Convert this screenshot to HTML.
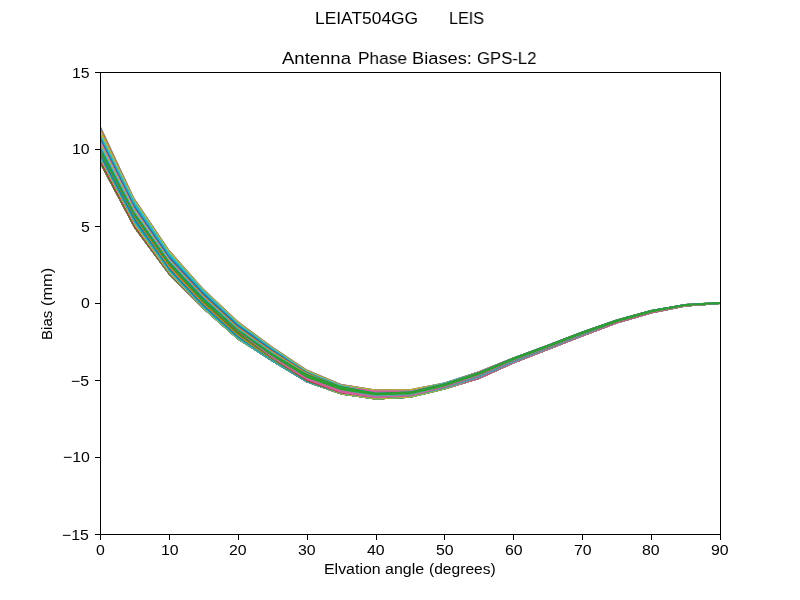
<!DOCTYPE html><html><head><meta charset="utf-8"><title>Antenna Phase Biases</title><style>
html,body{margin:0;padding:0;background:#fff;}
body{width:800px;height:600px;position:relative;overflow:hidden;font-family:"Liberation Sans",sans-serif;color:#000;}
.w{position:absolute;white-space:pre;line-height:1;transform-origin:0 0;will-change:transform;}
</style></head><body>
<svg width="800" height="600" viewBox="0 0 800 600" style="position:absolute;left:0;top:0">
<defs><clipPath id="ax"><rect x="100" y="72" width="620" height="462"/></clipPath></defs>
<g clip-path="url(#ax)" stroke="none">
<polygon fill="#1f77b4" points="100.0,124.64 101.2,127.20 134.4,198.20 168.9,249.60 203.3,288.40 237.8,321.10 272.2,346.50 306.7,369.50 341.1,383.90 375.6,389.60 410.0,389.20 444.4,382.50 478.9,371.20 513.3,357.50 547.8,344.70 582.2,331.60 616.7,319.60 651.1,310.10 685.6,304.10 720.0,301.95 720.0,304.05 685.6,306.50 651.1,313.50 616.7,323.60 582.2,336.40 547.8,350.10 513.3,363.60 478.9,379.00 444.4,389.60 410.0,397.80 375.6,399.40 341.1,394.60 306.7,382.20 272.2,361.40 237.8,339.50 203.3,308.90 168.9,274.60 134.4,228.00 101.2,165.70 100.0,163.45"/>
<polygon fill="#ff7f0e" points="100.0,125.88 101.2,128.40 134.4,198.20 168.9,249.60 203.3,288.40 237.8,321.10 272.2,346.50 306.7,369.50 341.1,383.90 375.6,389.60 410.0,389.20 444.4,382.50 478.9,371.20 513.3,357.50 547.8,344.70 582.2,331.60 616.7,319.60 651.1,310.10 685.6,304.10 720.0,301.95 720.0,304.05 685.6,306.50 651.1,313.50 616.7,323.60 582.2,336.40 547.8,350.10 513.3,363.60 478.9,379.00 444.4,389.60 410.0,397.80 375.6,399.40 341.1,394.60 306.7,382.20 272.2,361.40 237.8,339.50 203.3,308.90 168.9,274.60 134.4,228.00 101.2,165.70 100.0,163.45"/>
<polygon fill="#9467bd" points="100.0,127.85 101.2,130.30 134.4,198.20 168.9,249.60 203.3,288.40 237.8,321.10 272.2,346.50 306.7,369.50 341.1,383.90 375.6,389.60 410.0,389.20 444.4,382.50 478.9,371.20 513.3,357.50 547.8,344.70 582.2,331.60 616.7,319.60 651.1,310.10 685.6,304.10 720.0,301.95 720.0,304.05 685.6,306.50 651.1,313.50 616.7,323.60 582.2,336.40 547.8,350.10 513.3,363.60 478.9,379.00 444.4,389.60 410.0,397.80 375.6,399.40 341.1,394.60 306.7,382.20 272.2,361.40 237.8,339.50 203.3,308.90 168.9,274.60 134.4,228.00 101.2,165.70 100.0,163.45"/>
<polygon fill="#bcbd22" points="100.0,129.16 101.2,131.60 134.4,199.30 168.9,250.30 203.3,289.00 237.8,321.60 272.2,347.00 306.7,370.00 341.1,384.50 375.6,389.60 410.0,389.20 444.4,382.50 478.9,371.20 513.3,357.50 547.8,344.70 582.2,331.60 616.7,319.60 651.1,310.10 685.6,304.10 720.0,301.95 720.0,304.05 685.6,306.50 651.1,313.50 616.7,323.60 582.2,336.40 547.8,350.10 513.3,363.60 478.9,379.00 444.4,389.60 410.0,397.80 375.6,399.40 341.1,394.60 306.7,382.20 272.2,361.40 237.8,339.50 203.3,308.90 168.9,274.60 134.4,228.00 101.2,165.70 100.0,163.45"/>
<polygon fill="#17becf" points="100.0,133.12 101.2,135.50 134.4,201.50 168.9,252.50 203.3,290.20 237.8,323.00 272.2,348.10 306.7,371.30 341.1,385.20 375.6,390.80 410.0,390.70 444.4,382.50 478.9,371.20 513.3,357.50 547.8,344.70 582.2,331.60 616.7,319.60 651.1,310.10 685.6,304.10 720.0,301.95 720.0,304.05 685.6,306.50 651.1,313.50 616.7,323.60 582.2,336.40 547.8,350.10 513.3,363.60 478.9,379.00 444.4,389.60 410.0,397.80 375.6,399.40 341.1,394.60 306.7,382.20 272.2,361.40 237.8,339.50 203.3,308.90 168.9,274.60 134.4,228.00 101.2,165.70 100.0,163.45"/>
<polygon fill="#1f77b4" points="100.0,136.20 101.2,138.60 134.4,205.00 168.9,255.50 203.3,292.50 237.8,324.50 272.2,349.30 306.7,372.10 341.1,386.20 375.6,390.80 410.0,390.70 444.4,383.60 478.9,371.20 513.3,357.50 547.8,344.70 582.2,331.60 616.7,319.60 651.1,310.10 685.6,304.10 720.0,301.95 720.0,304.05 685.6,306.50 651.1,313.50 616.7,323.60 582.2,336.40 547.8,350.10 513.3,363.60 478.9,379.00 444.4,389.60 410.0,397.80 375.6,399.40 341.1,394.60 306.7,382.20 272.2,361.40 237.8,339.50 203.3,308.90 168.9,274.60 134.4,228.00 101.2,165.70 100.0,163.45"/>
<polygon fill="#ff7f0e" points="100.0,139.92 101.2,142.30 134.4,208.20 168.9,258.30 203.3,295.00 237.8,326.70 272.2,351.00 306.7,372.70 341.1,386.20 375.6,390.80 410.0,390.70 444.4,383.60 478.9,371.20 513.3,357.50 547.8,344.70 582.2,331.60 616.7,319.60 651.1,310.10 685.6,304.10 720.0,301.95 720.0,304.05 685.6,306.50 651.1,313.50 616.7,323.60 582.2,336.40 547.8,350.10 513.3,363.60 478.9,379.00 444.4,389.60 410.0,397.80 375.6,399.40 341.1,394.60 306.7,382.20 272.2,361.40 237.8,339.50 203.3,308.90 168.9,274.60 134.4,228.00 101.2,165.70 100.0,163.45"/>
<polygon fill="#e377c2" points="100.0,139.92 101.2,142.30 134.4,208.20 168.9,258.30 203.3,296.80 237.8,328.20 272.2,352.40 306.7,374.00 341.1,386.20 375.6,390.80 410.0,390.70 444.4,383.60 478.9,371.20 513.3,357.50 547.8,344.70 582.2,331.60 616.7,319.60 651.1,310.10 685.6,304.10 720.0,301.95 720.0,304.05 685.6,306.50 651.1,313.50 616.7,323.60 582.2,336.40 547.8,350.10 513.3,363.60 478.9,379.00 444.4,389.60 410.0,397.80 375.6,399.40 341.1,394.60 306.7,382.20 272.2,361.40 237.8,339.50 203.3,308.90 168.9,274.60 134.4,228.00 101.2,165.70 100.0,163.45"/>
<polygon fill="#cf5f9f" points="100.0,142.04 101.2,144.40 134.4,209.80 168.9,259.20 203.3,296.80 237.8,328.20 272.2,352.40 306.7,374.00 341.1,386.20 375.6,390.80 410.0,390.70 444.4,383.60 478.9,372.00 513.3,357.50 547.8,344.70 582.2,331.60 616.7,319.60 651.1,310.10 685.6,304.10 720.0,301.95 720.0,304.05 685.6,306.50 651.1,313.50 616.7,323.60 582.2,336.40 547.8,350.10 513.3,363.60 478.9,379.00 444.4,389.60 410.0,397.80 375.6,399.40 341.1,394.60 306.7,382.20 272.2,361.40 237.8,339.50 203.3,308.90 168.9,274.60 134.4,228.00 101.2,165.70 100.0,163.45"/>
<polygon fill="#bcbd22" points="100.0,142.04 101.2,144.40 134.4,209.80 168.9,259.20 203.3,296.80 237.8,328.20 272.2,352.40 306.7,374.00 341.1,386.20 375.6,392.70 410.0,391.60 444.4,383.60 478.9,372.00 513.3,357.50 547.8,344.70 582.2,331.60 616.7,319.60 651.1,310.10 685.6,304.10 720.0,301.95 720.0,304.05 685.6,306.50 651.1,313.50 616.7,323.60 582.2,336.40 547.8,350.10 513.3,363.60 478.9,379.00 444.4,389.60 410.0,397.80 375.6,399.40 341.1,394.60 306.7,382.20 272.2,361.40 237.8,339.50 203.3,308.90 168.9,274.60 134.4,228.00 101.2,165.70 100.0,163.45"/>
<polygon fill="#17becf" points="100.0,144.06 101.2,146.40 134.4,211.20 168.9,260.20 203.3,296.80 237.8,328.20 272.2,352.40 306.7,374.00 341.1,386.20 375.6,392.70 410.0,391.60 444.4,383.60 478.9,372.00 513.3,357.50 547.8,344.70 582.2,331.60 616.7,319.60 651.1,310.10 685.6,304.10 720.0,301.95 720.0,304.05 685.6,306.50 651.1,313.50 616.7,323.60 582.2,336.40 547.8,350.10 513.3,363.60 478.9,379.00 444.4,389.60 410.0,397.80 375.6,399.40 341.1,394.60 306.7,382.20 272.2,361.40 237.8,339.50 203.3,308.90 168.9,274.60 134.4,228.00 101.2,165.70 100.0,163.45"/>
<polygon fill="#1f77b4" points="100.0,146.60 101.2,148.90 134.4,212.50 168.9,261.00 203.3,297.80 237.8,329.50 272.2,353.60 306.7,374.00 341.1,386.20 375.6,392.70 410.0,391.60 444.4,383.60 478.9,372.00 513.3,357.50 547.8,344.70 582.2,331.60 616.7,319.60 651.1,310.10 685.6,304.10 720.0,301.95 720.0,304.05 685.6,306.50 651.1,313.50 616.7,323.60 582.2,336.40 547.8,350.10 513.3,363.60 478.9,379.00 444.4,389.60 410.0,397.80 375.6,399.40 341.1,394.60 306.7,382.20 272.2,361.40 237.8,339.50 203.3,308.90 168.9,274.60 134.4,228.00 101.2,165.70 100.0,163.45"/>
<polygon fill="#2ca02c" points="100.0,148.23 101.2,150.50 134.4,213.30 168.9,261.80 203.3,298.70 237.8,329.50 272.2,353.60 306.7,374.00 341.1,386.20 375.6,392.70 410.0,391.60 444.4,383.60 478.9,372.00 513.3,357.50 547.8,344.70 582.2,331.60 616.7,319.60 651.1,310.10 685.6,304.10 720.0,301.95 720.0,304.05 685.6,306.50 651.1,313.50 616.7,323.60 582.2,336.40 547.8,350.10 513.3,363.60 478.9,379.00 444.4,389.60 410.0,397.80 375.6,399.40 341.1,394.60 306.7,382.20 272.2,361.40 237.8,339.50 203.3,308.90 168.9,274.60 134.4,228.00 101.2,165.70 100.0,163.45"/>
<polygon fill="#5aa6a0" points="100.0,153.59 101.2,155.80 134.4,217.00 168.9,265.60 203.3,303.00 237.8,331.70 272.2,356.60 306.7,378.00 341.1,390.30 375.6,395.30 410.0,394.30 444.4,386.60 478.9,375.00 513.3,360.40 547.8,347.40 582.2,334.20 616.7,322.50 651.1,312.70 685.6,306.20 720.0,303.95 720.0,304.05 685.6,306.50 651.1,313.50 616.7,323.60 582.2,336.40 547.8,350.10 513.3,363.60 478.9,379.00 444.4,389.60 410.0,397.80 375.6,399.40 341.1,394.60 306.7,382.20 272.2,361.40 237.8,339.50 203.3,308.90 168.9,274.60 134.4,228.00 101.2,165.70 100.0,163.45"/>
<polygon fill="#cf5f9f" points="100.0,153.59 101.2,155.80 134.4,217.00 168.9,265.60 203.3,303.00 237.8,331.70 272.2,356.60 306.7,378.00 341.1,390.30 375.6,396.60 410.0,395.30 444.4,386.60 478.9,375.00 513.3,360.40 547.8,347.40 582.2,334.20 616.7,322.50 651.1,312.70 685.6,306.20 720.0,303.95 720.0,304.05 685.6,306.50 651.1,313.50 616.7,323.60 582.2,336.40 547.8,350.10 513.3,363.60 478.9,379.00 444.4,389.60 410.0,397.80 375.6,399.40 341.1,394.60 306.7,382.20 272.2,361.40 237.8,339.50 203.3,308.90 168.9,274.60 134.4,228.00 101.2,165.70 100.0,163.45"/>
<polygon fill="#d62728" points="100.0,153.59 101.2,155.80 134.4,217.00 168.9,265.60 203.3,303.00 237.8,331.70 272.2,358.60 306.7,379.90 341.1,392.90 375.6,398.40 410.0,396.70 444.4,387.90 478.9,376.30 513.3,361.60 547.8,348.40 582.2,335.00 616.7,322.50 651.1,312.70 685.6,306.20 720.0,303.95 720.0,304.05 685.6,306.50 651.1,313.50 616.7,323.60 582.2,336.40 547.8,350.10 513.3,363.60 478.9,379.00 444.4,389.60 410.0,397.80 375.6,399.40 341.1,394.60 306.7,382.20 272.2,361.40 237.8,339.50 203.3,308.90 168.9,274.60 134.4,228.00 101.2,165.70 100.0,163.45"/>
<polygon fill="#2ca02c" points="100.0,153.59 101.2,155.80 134.4,217.00 168.9,265.60 203.3,303.00 237.8,332.60 272.2,358.60 306.7,380.90 341.1,393.80 375.6,398.40 410.0,396.70 444.4,387.90 478.9,376.30 513.3,361.60 547.8,348.40 582.2,335.00 616.7,322.50 651.1,312.70 685.6,306.20 720.0,303.95 720.0,304.05 685.6,306.50 651.1,313.50 616.7,323.60 582.2,336.40 547.8,350.10 513.3,363.60 478.9,379.00 444.4,389.60 410.0,397.80 375.6,399.40 341.1,394.60 306.7,382.20 272.2,361.40 237.8,339.50 203.3,308.90 168.9,274.60 134.4,228.00 101.2,165.70 100.0,163.45"/>
<polygon fill="#ff7f0e" points="100.0,153.59 101.2,155.80 134.4,217.00 168.9,265.60 203.3,303.00 237.8,334.70 272.2,359.40 306.7,381.40 341.1,393.80 375.6,398.40 410.0,396.70 444.4,387.90 478.9,376.30 513.3,361.60 547.8,348.40 582.2,335.00 616.7,322.50 651.1,312.70 685.6,306.20 720.0,303.95 720.0,304.05 685.6,306.50 651.1,313.50 616.7,323.60 582.2,336.40 547.8,350.10 513.3,363.60 478.9,379.00 444.4,389.60 410.0,397.80 375.6,399.40 341.1,394.60 306.7,382.20 272.2,361.40 237.8,339.50 203.3,308.90 168.9,274.60 134.4,228.00 101.2,165.70 100.0,163.45"/>
<polygon fill="#2ca02c" points="100.0,153.55 101.2,155.80 134.4,218.00 168.9,267.50 203.3,304.50 237.8,336.10 272.2,360.30 306.7,381.40 341.1,393.80 375.6,398.40 410.0,396.70 444.4,387.90 478.9,376.30 513.3,361.60 547.8,348.40 582.2,335.00 616.7,322.50 651.1,312.70 685.6,306.20 720.0,303.95 720.0,304.05 685.6,306.50 651.1,313.50 616.7,323.60 582.2,336.40 547.8,350.10 513.3,363.60 478.9,379.00 444.4,389.60 410.0,397.80 375.6,399.40 341.1,394.60 306.7,382.20 272.2,361.40 237.8,339.50 203.3,308.90 168.9,274.60 134.4,228.00 101.2,165.70 100.0,163.45"/>
<polygon fill="#1f77b4" points="100.0,153.55 101.2,155.80 134.4,218.00 168.9,267.50 203.3,304.50 237.8,336.10 272.2,360.30 306.7,381.40 341.1,393.80 375.6,398.40 410.0,396.70 444.4,387.90 478.9,376.30 513.3,361.60 547.8,348.40 582.2,335.00 616.7,322.50 651.1,312.70 685.6,306.20 720.0,303.95 720.0,304.05 685.6,306.50 651.1,313.50 616.7,323.60 582.2,336.40 547.8,350.10 513.3,363.60 478.9,379.00 444.4,389.60 410.0,397.80 375.6,399.40 341.1,394.60 306.7,382.20 272.2,361.40 237.8,339.50 203.3,308.90 168.9,274.60 134.4,228.00 101.2,165.70 100.0,163.45"/>
<polygon fill="#17becf" points="100.0,155.84 101.2,158.10 134.4,220.70 168.9,269.50 203.3,306.30 237.8,337.60 272.2,360.30 306.7,381.40 341.1,393.80 375.6,398.40 410.0,396.70 444.4,387.90 478.9,376.30 513.3,361.60 547.8,348.40 582.2,335.00 616.7,322.50 651.1,312.70 685.6,306.20 720.0,303.95 720.0,304.05 685.6,306.50 651.1,313.50 616.7,323.60 582.2,336.40 547.8,350.10 513.3,363.60 478.9,379.00 444.4,389.60 410.0,397.80 375.6,399.40 341.1,394.60 306.7,382.20 272.2,361.40 237.8,339.50 203.3,308.90 168.9,274.60 134.4,228.00 101.2,165.70 100.0,163.45"/>
<polygon fill="#3fa3ad" points="100.0,157.71 101.2,160.00 134.4,223.40 168.9,271.50 203.3,307.90 237.8,338.70 272.2,361.40 306.7,382.20 341.1,393.80 375.6,398.40 410.0,396.70 444.4,387.90 478.9,376.30 513.3,361.60 547.8,348.40 582.2,335.00 616.7,322.50 651.1,312.70 685.6,306.20 720.0,303.95 720.0,304.05 685.6,306.50 651.1,313.50 616.7,323.60 582.2,336.40 547.8,350.10 513.3,363.60 478.9,379.00 444.4,389.60 410.0,397.80 375.6,399.40 341.1,394.60 306.7,382.20 272.2,361.40 237.8,339.50 203.3,308.90 168.9,274.60 134.4,228.00 101.2,165.70 100.0,163.45"/>
<polygon fill="#bcbd22" points="100.0,157.71 101.2,160.00 134.4,223.40 168.9,271.50 203.3,307.90 237.8,338.70 272.2,361.40 306.7,382.20 341.1,393.80 375.6,398.40 410.0,396.70 444.4,388.80 478.9,377.80 513.3,362.80 547.8,349.30 582.2,335.70 616.7,322.50 651.1,312.70 685.6,306.20 720.0,303.95 720.0,304.05 685.6,306.50 651.1,313.50 616.7,323.60 582.2,336.40 547.8,350.10 513.3,363.60 478.9,379.00 444.4,389.60 410.0,397.80 375.6,399.40 341.1,394.60 306.7,382.20 272.2,361.40 237.8,339.50 203.3,308.90 168.9,274.60 134.4,228.00 101.2,165.70 100.0,163.45"/>
<polygon fill="#e377c2" points="100.0,159.29 101.2,161.60 134.4,225.50 168.9,272.80 203.3,308.90 237.8,339.50 272.2,361.40 306.7,382.20 341.1,394.60 375.6,399.40 410.0,397.80 444.4,389.60 478.9,377.80 513.3,362.80 547.8,349.30 582.2,335.70 616.7,322.50 651.1,312.70 685.6,306.20 720.0,303.95 720.0,304.05 685.6,306.50 651.1,313.50 616.7,323.60 582.2,336.40 547.8,350.10 513.3,363.60 478.9,379.00 444.4,389.60 410.0,397.80 375.6,399.40 341.1,394.60 306.7,382.20 272.2,361.40 237.8,339.50 203.3,308.90 168.9,274.60 134.4,228.00 101.2,165.70 100.0,163.45"/>
<polygon fill="#b8527f" points="100.0,159.71 101.2,162.00 134.4,225.50 168.9,273.60 203.3,308.90 237.8,339.50 272.2,361.40 306.7,382.20 341.1,394.60 375.6,399.40 410.0,397.80 444.4,389.60 478.9,377.80 513.3,362.80 547.8,349.30 582.2,335.70 616.7,322.50 651.1,312.70 685.6,306.20 720.0,303.95 720.0,304.05 685.6,306.50 651.1,313.50 616.7,323.60 582.2,336.40 547.8,350.10 513.3,363.60 478.9,379.00 444.4,389.60 410.0,397.80 375.6,399.40 341.1,394.60 306.7,382.20 272.2,361.40 237.8,339.50 203.3,308.90 168.9,274.60 134.4,228.00 101.2,165.70 100.0,163.45"/>
<polygon fill="#d62728" points="100.0,159.71 101.2,162.00 134.4,225.50 168.9,273.60 203.3,308.90 237.8,339.50 272.2,361.40 306.7,382.20 341.1,394.60 375.6,399.40 410.0,397.80 444.4,389.60 478.9,379.00 513.3,363.60 547.8,350.10 582.2,336.40 616.7,323.60 651.1,313.50 685.6,306.50 720.0,304.05 720.0,304.05 685.6,306.50 651.1,313.50 616.7,323.60 582.2,336.40 547.8,350.10 513.3,363.60 478.9,379.00 444.4,389.60 410.0,397.80 375.6,399.40 341.1,394.60 306.7,382.20 272.2,361.40 237.8,339.50 203.3,308.90 168.9,274.60 134.4,228.00 101.2,165.70 100.0,163.45"/>
<polygon fill="#2ca02c" points="100.0,161.73 101.2,164.00 134.4,226.90 168.9,273.60 203.3,308.90 237.8,339.50 272.2,361.40 306.7,382.20 341.1,394.60 375.6,399.40 410.0,397.80 444.4,389.60 478.9,379.00 513.3,363.60 547.8,350.10 582.2,336.40 616.7,323.60 651.1,313.50 685.6,306.50 720.0,304.05 720.0,304.05 685.6,306.50 651.1,313.50 616.7,323.60 582.2,336.40 547.8,350.10 513.3,363.60 478.9,379.00 444.4,389.60 410.0,397.80 375.6,399.40 341.1,394.60 306.7,382.20 272.2,361.40 237.8,339.50 203.3,308.90 168.9,274.60 134.4,228.00 101.2,165.70 100.0,163.45"/>
</g>
<g fill="#000" shape-rendering="crispEdges">
<rect x="100" y="535" width="1" height="4.6"/>
<rect x="169" y="535" width="1" height="4.6"/>
<rect x="238" y="535" width="1" height="4.6"/>
<rect x="307" y="535" width="1" height="4.6"/>
<rect x="376" y="535" width="1" height="4.6"/>
<rect x="444" y="535" width="1" height="4.6"/>
<rect x="513" y="535" width="1" height="4.6"/>
<rect x="582" y="535" width="1" height="4.6"/>
<rect x="651" y="535" width="1" height="4.6"/>
<rect x="720" y="535" width="1" height="4.6"/>
<rect x="95.2" y="534" width="4.8" height="1"/>
<rect x="95.2" y="457" width="4.8" height="1"/>
<rect x="95.2" y="380" width="4.8" height="1"/>
<rect x="95.2" y="303" width="4.8" height="1"/>
<rect x="95.2" y="226" width="4.8" height="1"/>
<rect x="95.2" y="149" width="4.8" height="1"/>
<rect x="95.2" y="72" width="4.8" height="1"/>
<rect x="100" y="72" width="621" height="1"/>
<rect x="100" y="534" width="621" height="1"/>
<rect x="100" y="72" width="1" height="463"/>
<rect x="720" y="72" width="1" height="463"/>
</g>
</svg>
<div id="suptitle"><span class="w" style="left:314.90px;top:10.00px;font-size:17.4px;transform:scaleX(0.9985)">LEIAT504GG      </span><span class="w" style="left:449.11px;top:10.00px;font-size:17.4px;transform:scaleX(0.9296)">LEIS</span></div>
<div id="title"><span class="w" style="left:282.30px;top:50.00px;font-size:17.4px;transform:scaleX(1.0641)">Antenna </span><span class="w" style="left:357.76px;top:50.00px;font-size:17.4px;transform:scaleX(0.9904)">Phase </span><span class="w" style="left:412.43px;top:50.00px;font-size:17.4px;transform:scaleX(1.0500)">Biases: </span><span class="w" style="left:477.44px;top:50.00px;font-size:17.4px;transform:scaleX(0.9600)">GPS-L2</span></div>
<div id="xlabel"><span class="w" style="left:324.44px;top:562.00px;font-size:14.7px;transform:scaleX(1.0840)">Elvation </span><span class="w" style="left:385.18px;top:562.00px;font-size:14.7px;transform:scaleX(1.0870)">angle </span><span class="w" style="left:428.54px;top:562.00px;font-size:14.7px;transform:scaleX(1.0623)">(degrees)</span></div>
<div id="ylabel"><span class="w" style="left:40.10px;top:339.98px;font-size:14.7px;transform:rotate(-90deg) scaleX(1.0243)">Bias </span><span class="w" style="left:40.10px;top:306.42px;font-size:14.7px;transform:rotate(-90deg) scaleX(1.1163)">(mm)</span></div>
<div id="xticks">
<span class="w" style="left:95.93px;top:543px;font-size:14.7px;transform:scaleX(1.08)">0</span>
<span class="w" style="left:160.64px;top:543px;font-size:14.7px;transform:scaleX(1.08)">10</span>
<span class="w" style="left:229.07px;top:543px;font-size:14.7px;transform:scaleX(1.08)">20</span>
<span class="w" style="left:298.09px;top:543px;font-size:14.7px;transform:scaleX(1.08)">30</span>
<span class="w" style="left:367.12px;top:543px;font-size:14.7px;transform:scaleX(1.08)">40</span>
<span class="w" style="left:435.73px;top:543px;font-size:14.7px;transform:scaleX(1.08)">50</span>
<span class="w" style="left:504.62px;top:543px;font-size:14.7px;transform:scaleX(1.08)">60</span>
<span class="w" style="left:573.51px;top:543px;font-size:14.7px;transform:scaleX(1.08)">70</span>
<span class="w" style="left:642.40px;top:543px;font-size:14.7px;transform:scaleX(1.08)">80</span>
<span class="w" style="left:711.29px;top:543px;font-size:14.7px;transform:scaleX(1.08)">90</span>
</div><div id="yticks">
<span class="w" style="left:62.41px;top:528.00px;font-size:14.7px;transform:scaleX(1.08)">−15</span>
<span class="w" style="left:63.11px;top:450.00px;font-size:14.7px;transform:scaleX(1.08)">−10</span>
<span class="w" style="left:71.32px;top:374.00px;font-size:14.7px;transform:scaleX(1.08)">−5</span>
<span class="w" style="left:81.20px;top:296.00px;font-size:14.7px;transform:scaleX(1.08)">0</span>
<span class="w" style="left:80.50px;top:220.00px;font-size:14.7px;transform:scaleX(1.08)">5</span>
<span class="w" style="left:72.29px;top:142.00px;font-size:14.7px;transform:scaleX(1.08)">10</span>
<span class="w" style="left:71.59px;top:66.00px;font-size:14.7px;transform:scaleX(1.08)">15</span>
</div>
</body></html>
